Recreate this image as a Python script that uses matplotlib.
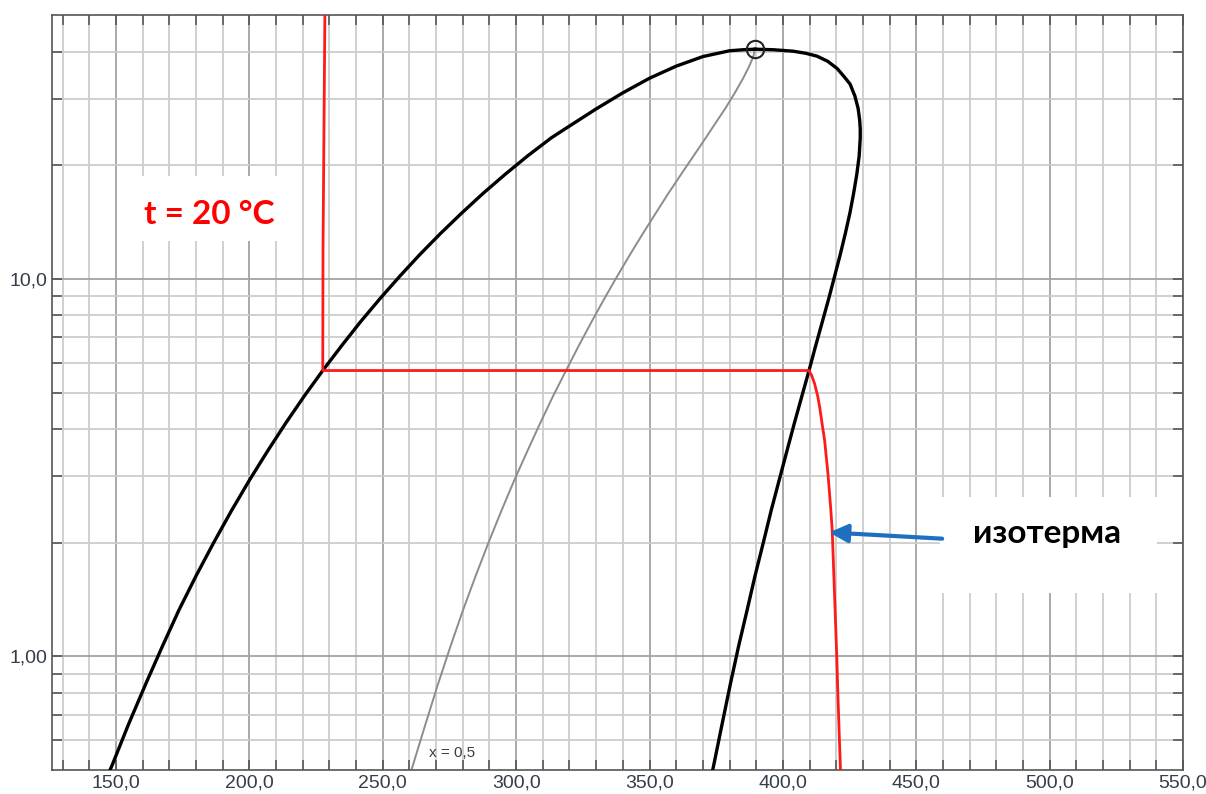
import matplotlib
matplotlib.use('Agg')
import matplotlib.pyplot as plt
from matplotlib.patches import Rectangle
from matplotlib.ticker import NullFormatter

# R-134a saturation curves (h in kJ/kg, p in bar)
h_liq = [145.9, 148.4, 154.7, 161.1, 167.4, 173.6, 180.1, 186.7, 193.3, 200.0, 206.8,
         213.6, 220.5, 227.5, 234.6, 241.7, 249.0, 256.4, 263.9, 271.6, 279.5, 287.5,
         295.8, 304.3, 313.2, 320.0, 330.0, 340.0, 350.0, 360.0, 370.0, 380.0, 385.0,
         389.6]
p_liq = [0.467, 0.512, 0.661, 0.844, 1.064, 1.327, 1.639, 2.006, 2.433, 2.928, 3.497,
         4.146, 4.884, 5.717, 6.654, 7.702, 8.870, 10.166, 11.599, 13.179, 14.915, 16.818,
         18.898, 21.168, 23.641, 25.4, 28.2, 31.1, 34.0, 36.6, 38.8, 40.2, 40.45,
         40.59]

h_vap = [389.6, 396.5, 403.8, 408.5, 412.8, 416.8, 420.3, 423.0, 425.2, 427.0, 428.2,
         428.8, 429.0, 429.0, 428.6, 427.7, 426.5, 425.1, 423.4, 421.5, 419.4, 417.2,
         414.8, 412.3, 409.8, 407.1, 404.3, 401.5, 398.6, 395.6, 392.7, 389.6, 386.6,
         383.4, 380.3, 377.2, 374.0, 372.8]
p_vap = [40.59, 40.45, 40.1, 39.6, 38.9, 37.7, 36.1, 34.3, 32.8, 30.5, 28.3,
         26.3, 25.0, 23.6, 21.17, 18.9, 16.82, 14.915, 13.179, 11.599, 10.166, 8.870,
         7.702, 6.654, 5.717, 4.884, 4.146, 3.497, 2.928, 2.433, 2.006, 1.639, 1.327,
         1.064, 0.844, 0.661, 0.512, 0.467]

# quality x = 0.5
h_x05 = [259.4, 261.2, 266.0, 270.7, 275.4, 280.1, 284.9, 289.7, 294.5, 299.3, 304.2,
         309.0, 313.8, 318.7, 323.5, 328.3, 333.1, 337.9, 342.7, 347.5, 352.3, 357.0,
         361.8, 366.5, 371.1, 374.0, 378.3, 382.0, 385.1, 387.4, 388.9, 389.6]
p_x05 = [0.467, 0.512, 0.661, 0.844, 1.064, 1.327, 1.639, 2.006, 2.433, 2.928, 3.497,
         4.146, 4.884, 5.717, 6.654, 7.702, 8.870, 10.166, 11.599, 13.179, 14.915, 16.818,
         18.898, 21.168, 23.641, 25.4, 28.2, 31.1, 34.0, 36.6, 38.8, 40.59]

# isotherm t = 20 C
h_iso = [228.3, 227.6, 227.5, 409.8, 410.8, 411.9, 413.0, 413.8, 414.8, 415.65, 416.9,
         417.9, 418.5, 418.9, 419.3, 419.8, 420.2, 420.6, 421.2, 421.6]
p_iso = [50.0, 12.0, 5.717, 5.717, 5.545, 5.272, 4.909, 4.571, 4.088, 3.731, 3.045,
         2.483, 2.155, 1.8, 1.5, 1.2, 1.0, 0.8, 0.6, 0.5]

h_crit, p_crit = 389.6, 40.59

x_major = [150, 200, 250, 300, 350, 400, 450, 500, 550]
x_labels = ['150,0', '200,0', '250,0', '300,0', '350,0', '400,0', '450,0', '500,0', '550,0']
x_minor = [130, 140, 160, 170, 180, 190, 210, 220, 230, 240, 260, 270, 280, 290,
           310, 320, 330, 340, 360, 370, 380, 390, 410, 420, 430, 440, 460, 470,
           480, 490, 510, 520, 530, 540]
y_major = [1, 10]
y_labels = ['1,00', '10,0']
y_minor = [0.6, 0.7, 0.8, 0.9, 2, 3, 4, 5, 6, 7, 8, 9, 20, 30, 40]

fig = plt.figure(figsize=(12.06, 7.94), dpi=100, facecolor='white')
ax = fig.add_axes([52 / 1206, 1 - 770 / 794, 1131 / 1206, 755 / 794])
ax.set_yscale('log')
ax.set_xlim(126, 550)
ax.set_ylim(0.5, 50)

ax.set_xticks(x_major, labels=x_labels)
ax.set_xticks(x_minor, minor=True)
ax.set_yticks(y_major, labels=y_labels)
ax.set_yticks(y_minor, minor=True)
ax.yaxis.set_minor_formatter(NullFormatter())

ax.set_axisbelow(True)
ax.grid(which='major', color='#a3a3a3', linewidth=1.3)
ax.grid(which='minor', color='#cdcdcd', linewidth=1.3)
ax.tick_params(which='both', direction='in', top=True, right=True,
               length=7, width=1.1, color='#4d4d4d')
ax.tick_params(which='major', labelsize=14, labelcolor='#353d48', pad=3)
for lab in ax.get_xticklabels() + ax.get_yticklabels():
    lab.set_fontfamily('Liberation Sans')
for sp in ax.spines.values():
    sp.set_color('#555555')
    sp.set_linewidth(1.2)

# white label boxes
ax.add_patch(Rectangle((159, 12.6), 53, 6.1, facecolor='white', edgecolor='none', zorder=1))
ax.add_patch(Rectangle((459, 1.47), 81.3, 1.18, facecolor='white', edgecolor='none', zorder=1))

ax.plot(h_x05, p_x05, color='#8c8c8c', linewidth=1.4, zorder=2)
ax.plot(h_liq, p_liq, color='black', linewidth=2.4, zorder=3)
ax.plot(h_vap, p_vap, color='black', linewidth=2.4, zorder=3)
ax.plot(h_iso, p_iso, color='#ff1a1a', linewidth=2.0, zorder=4)
ax.plot([h_crit], [p_crit], marker='o', markersize=12.5, markerfacecolor='none',
        markeredgecolor='#222222', markeredgewidth=1.5, zorder=5)

ax.text(276, 0.554, 'x = 0,5', fontsize=11, color='#353d48', ha='center', va='center',
        family='Liberation Sans', zorder=5)
ax.text(185, 14.8, 't = 20 °C', fontsize=24, fontweight='bold', color='#ff0000',
        ha='center', va='center', family=['Lato', 'Noto Sans'], zorder=5)
ax.text(499, 2.12, 'изотерма', fontsize=24, fontweight='bold', color='black',
        ha='center', va='center', family=['Lato', 'Noto Sans'], zorder=5)
ax.annotate('', xy=(417.4, 2.13), xytext=(459.7, 2.05),
            arrowprops=dict(arrowstyle='-|>,head_length=1.1,head_width=0.55',
                            color='#1f6fc0', lw=3, shrinkA=0, shrinkB=0),
            zorder=6)

fig.savefig('out.png', dpi=100)
